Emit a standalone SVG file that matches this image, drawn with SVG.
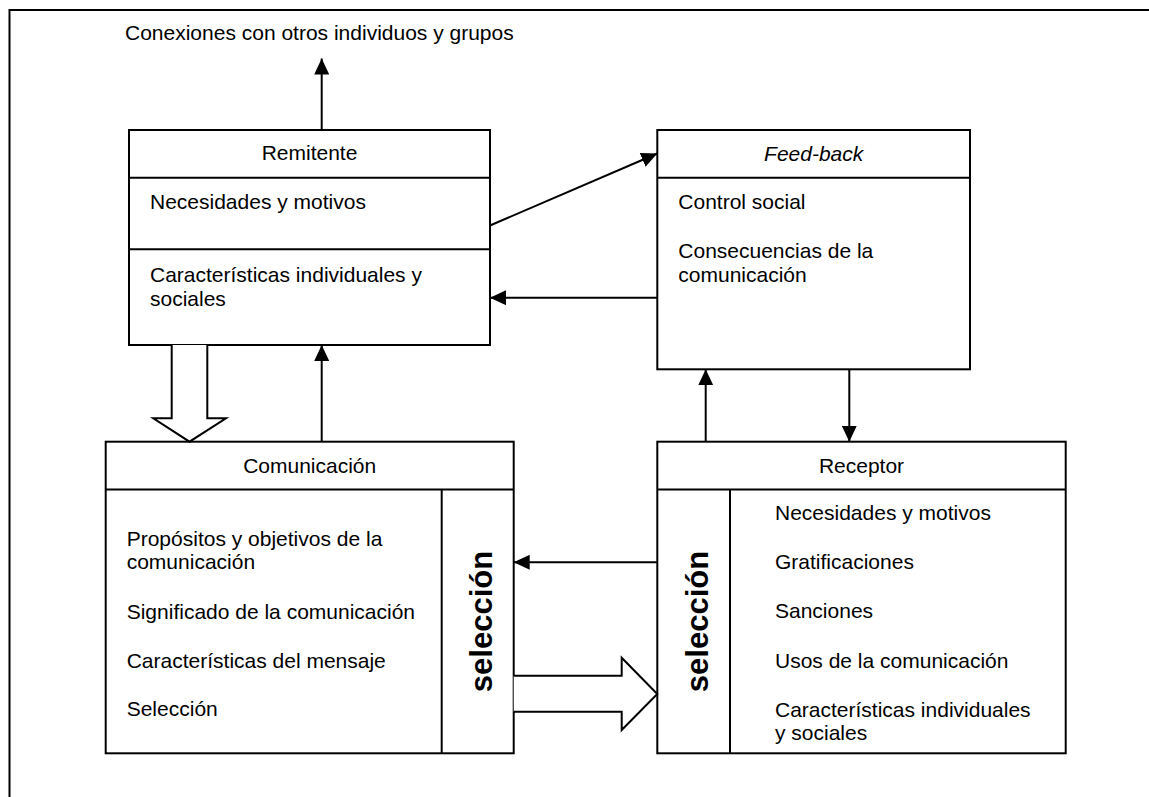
<svg xmlns="http://www.w3.org/2000/svg" width="1149" height="797" viewBox="0 0 1149 797">
  <style>
    text { font-family: "Liberation Sans", Arial, sans-serif; font-size: 21px; fill: #000; }
    .c { text-anchor: middle; }
    .sel { font-size: 31px; font-weight: bold; text-anchor: middle; }
    .box { fill: #fff; stroke: #000; stroke-width: 2; }
    .ln { fill: none; stroke: #000; stroke-width: 2; }
    .blk { fill: #fff; stroke: #000; stroke-width: 2; stroke-linejoin: miter; }
  </style>
  <defs>
    <marker id="ah" markerUnits="userSpaceOnUse" markerWidth="17" markerHeight="15" refX="16" refY="7.5" orient="auto">
      <path d="M0,0 L16,7.5 L0,15 z" fill="#000"/>
    </marker>
  </defs>

  <rect width="1149" height="797" fill="#fff"/>

  <!-- outer frame -->
  <path class="ln" d="M9.5,800 V10 H1152" stroke-width="2.5"/>

  <text x="125" y="40">Conexiones con otros individuos y grupos</text>

  <!-- Remitente -->
  <g id="remitente">
    <rect class="box" x="129" y="130" width="361" height="215"/>
    <line class="ln" x1="129" y1="177.7" x2="490" y2="177.7"/>
    <line class="ln" x1="129" y1="249.3" x2="490" y2="249.3"/>
    <text class="c" x="309.5" y="160">Remitente</text>
    <text x="150" y="209">Necesidades y motivos</text>
    <text x="150" y="282.3">Características individuales y</text>
    <text x="150" y="305.7">sociales</text>
  </g>

  <!-- Feed-back -->
  <g id="feedback">
    <rect class="box" x="657.3" y="130" width="312.7" height="239.3"/>
    <line class="ln" x1="657.3" y1="177.7" x2="970" y2="177.7"/>
    <text class="c" x="813.7" y="160.7" font-style="italic">Feed-back</text>
    <text x="678.3" y="209">Control social</text>
    <text x="678.3" y="258.3">Consecuencias de la</text>
    <text x="678.3" y="281.7">comunicación</text>
  </g>

  <!-- Comunicación -->
  <g id="comunicacion">
    <rect class="box" x="105.7" y="441.7" width="408" height="311.6"/>
    <line class="ln" x1="105.7" y1="489.5" x2="513.7" y2="489.5"/>
    <line class="ln" x1="441.7" y1="489.5" x2="441.7" y2="753.3"/>
    <text class="c" x="309.7" y="472.5">Comunicación</text>
    <text x="126.7" y="546">Propósitos y objetivos de la</text>
    <text x="126.7" y="569.3">comunicación</text>
    <text x="126.7" y="619.3">Significado de la comunicación</text>
    <text x="126.7" y="668.3">Características del mensaje</text>
    <text x="126.7" y="716">Selección</text>
    <text class="sel" transform="translate(491.5,621.5) rotate(-90)">selección</text>
  </g>

  <!-- Receptor -->
  <g id="receptor">
    <rect class="box" x="657.3" y="441.7" width="408.4" height="311.6"/>
    <line class="ln" x1="657.3" y1="489.5" x2="1065.7" y2="489.5"/>
    <line class="ln" x1="730" y1="489.5" x2="730" y2="753.3"/>
    <text class="c" x="861.5" y="472.5">Receptor</text>
    <text class="sel" transform="translate(707.5,621.5) rotate(-90)">selección</text>
    <text x="775" y="520">Necesidades y motivos</text>
    <text x="775" y="569.3">Gratificaciones</text>
    <text x="775" y="618.3">Sanciones</text>
    <text x="775" y="668.3">Usos de la comunicación</text>
    <text x="775" y="717.3">Características individuales</text>
    <text x="775" y="740">y sociales</text>
  </g>

  <!-- connectors -->
  <g id="connectors">
    <line class="ln" x1="321.7" y1="130" x2="321.7" y2="58.5" marker-end="url(#ah)"/>
    <line class="ln" x1="490" y1="225.5" x2="657.3" y2="153.5" marker-end="url(#ah)"/>
    <line class="ln" x1="657.3" y1="297.7" x2="490" y2="297.7" marker-end="url(#ah)"/>
    <line class="ln" x1="321.7" y1="441.7" x2="321.7" y2="345" marker-end="url(#ah)"/>
    <line class="ln" x1="705.7" y1="441.7" x2="705.7" y2="369.3" marker-end="url(#ah)"/>
    <line class="ln" x1="849.3" y1="369.3" x2="849.3" y2="441.7" marker-end="url(#ah)"/>
    <line class="ln" x1="657.3" y1="562.3" x2="513.7" y2="562.3" marker-end="url(#ah)"/>
    <!-- hollow block arrows -->
    <polyline class="blk" points="171.7,345 171.7,418.3 153.3,418.3 189.5,441.7 226,418.3 207.3,418.3 207.3,345"/>
    <polyline class="blk" points="513.7,675.7 621.7,675.7 621.7,657.7 657.3,694 621.7,730 621.7,711.7 513.7,711.7"/>
  </g>
</svg>
